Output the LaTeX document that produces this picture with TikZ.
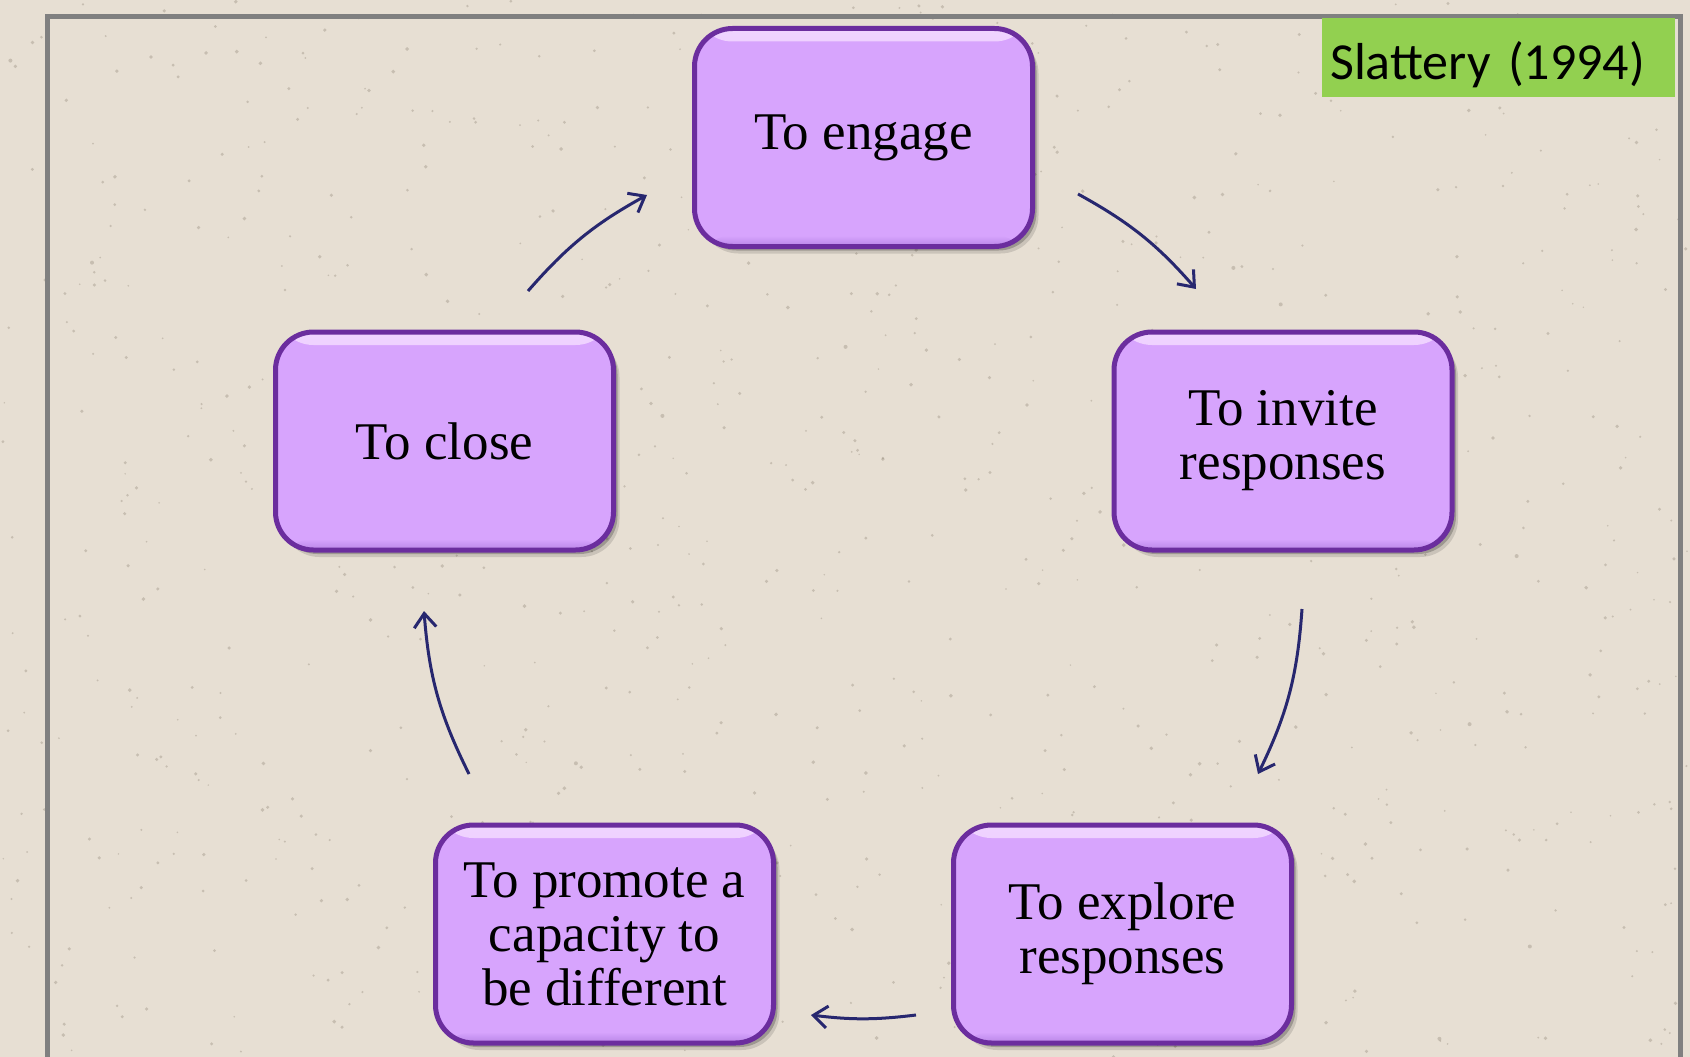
\documentclass[tikz,border=0pt]{standalone}
\usepackage{fontspec}
\setmainfont{Liberation Serif}
\newfontfamily\labelfont{Carlito}
\usetikzlibrary{arrows.meta,shadows,calc}

\definecolor{paper}{HTML}{E7DFD3}
\definecolor{speck}{HTML}{8C8272}
\definecolor{framegray}{HTML}{808080}
\definecolor{tagGreen}{HTML}{92D050}
\definecolor{boxFill}{HTML}{D7A4FD}
\definecolor{boxEdge}{HTML}{6B2D9E}
\definecolor{boxLight}{HTML}{F0D4FF}
\definecolor{boxDark}{HTML}{B784E6}
\definecolor{arrowNavy}{HTML}{27276F}

\begin{document}
\begin{tikzpicture}[x=1pt,y=-1pt,
  stage/.style={draw=boxEdge, line width=5pt, fill=boxFill,
    rounded corners=38pt, minimum width=338pt, minimum height=218pt,
    align=center, font=\fontsize{53}{54}\selectfont,
    drop shadow={shadow xshift=6pt, shadow yshift=-7pt, opacity=0.12, fill=black},
    drop shadow={shadow xshift=4pt, shadow yshift=-4pt, opacity=0.22, fill=black},
    path picture={
      \shade[top color=boxLight, bottom color=boxFill]
        (path picture bounding box.north west) rectangle
        ([yshift=-13pt]path picture bounding box.north east);
      \shade[top color=boxFill, bottom color=boxDark]
        ([yshift=11pt]path picture bounding box.south west) rectangle
        (path picture bounding box.south east);
    }},
  cyc/.style={draw=arrowNavy, line width=3pt,
    -{Straight Barb[length=14pt,width=22pt]}},
  tag/.style={fill=tagGreen, anchor=north west, minimum width=353pt,
    minimum height=79pt, text width=337pt, inner xsep=8pt, inner ysep=0pt,
    text height=55pt, text depth=12pt, align=left,
    font=\labelfont\fontsize{52}{60}\selectfont},
]
% paper background
\useasboundingbox (0,0) rectangle (1690,1057);
\fill[paper] (0,0) rectangle (1690,1057);
\pgfmathsetseed{42}
\foreach \i in {1,...,900} {
  \pgfmathsetmacro\px{rnd*1690}
  \pgfmathsetmacro\py{rnd*1057}
  \pgfmathsetmacro\pr{0.8+rnd*1.2}
  \fill[speck,opacity=0.35] (\px,\py) circle (\pr pt);
}

% open frame
\draw[framegray, line width=5pt] (47,1057) -- (47,17) -- (1680,17) -- (1680,1057);

% source tag
\node[tag] (src) at (1322,18) {Slattery (1994)};

% stages of the cycle
\node[stage] (engage)  at (863.5,137.5) {To engage};
\node[stage] (invite)  at (1283,441)    {To invite\\responses};
\node[stage] (explore) at (1122.5,934)  {To explore\\responses};
\node[stage] (promote) at (604.5,934)   {To promote a\\capacity to\\be different};
\node[stage] (close)   at (444.5,441)   {To close};

% arc ends around the cycle
\coordinate (a1s) at (1078,194);  \coordinate (a1e) at (1196,289);
\coordinate (a2s) at (1302,609);  \coordinate (a2e) at (1258,774);
\coordinate (a3s) at (916,1015);  \coordinate (a3e) at (811,1015);
\coordinate (a4s) at (469,774);   \coordinate (a4e) at (424,611);
\coordinate (a5s) at (528,291);   \coordinate (a5e) at (647,195);

\draw[cyc] (a1s) to[bend left=10] (a1e);
\draw[cyc] (a2s) to[bend left=11] (a2e);
\draw[cyc] (a3s) to[bend left=7]  (a3e);
\draw[cyc] (a4s) to[bend left=11] (a4e);
\draw[cyc] (a5s) to[bend left=10] (a5e);
\end{tikzpicture}
\end{document}
